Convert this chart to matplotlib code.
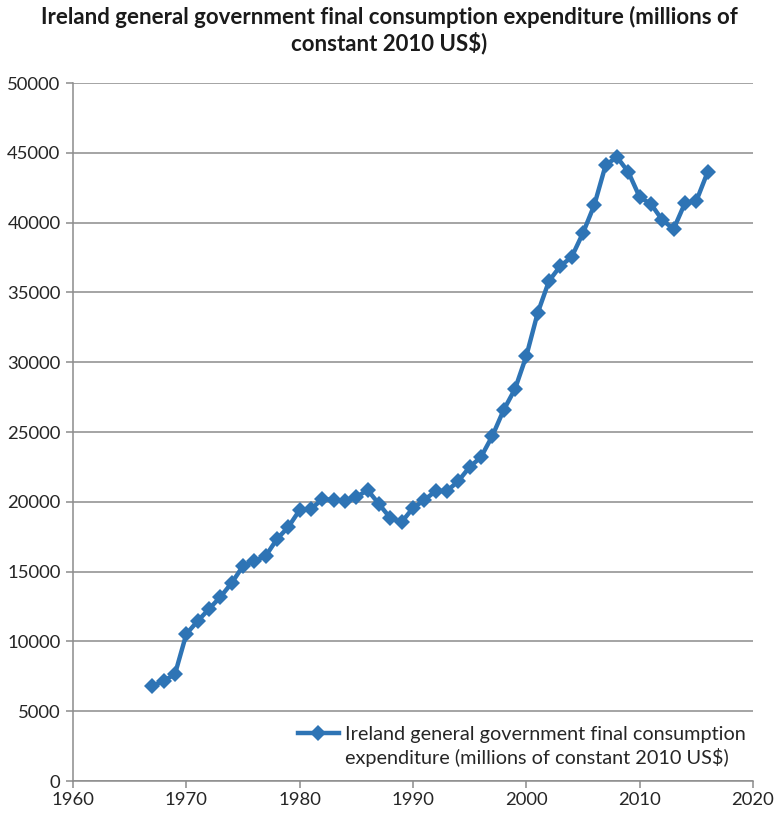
import matplotlib
matplotlib.use("Agg")
import matplotlib.pyplot as plt
from matplotlib.lines import Line2D

plt.rcParams['font.family'] = ['Lato', 'DejaVu Sans']

years = list(range(1967, 2017))
spending = [
    6805, 7163, 7665, 10530, 11461, 12321, 13180, 14183, 15401, 15759,
    16117, 17335, 18195, 19413, 19484, 20200, 20129, 20057, 20344, 20845,
    19842, 18840, 18553, 19556, 20129, 20774, 20774, 21490, 22493, 23209,
    24713, 26576, 28080, 30444, 33524, 35817, 36891, 37536, 39255, 41261,
    44126, 44699, 43625, 41834, 41332, 40186, 39542, 41404, 41547, 43625,
]
x_ticks = [1960, 1970, 1980, 1990, 2000, 2010, 2020]
y_ticks = list(range(0, 50001, 5000))

title = "Ireland general government final consumption expenditure (millions of\nconstant 2010 US$)"
label_lines = ["Ireland general government final consumption",
               "expenditure (millions of constant 2010 US$)"]

blue = "#2E74B5"
grid_gray = "#8C8C8C"

fig = plt.figure(figsize=(7.79, 8.14), dpi=100)
ax = fig.add_axes([0.0937, 0.0405, 0.8729, 0.8575])

series, = ax.plot(years, spending, color=blue, lw=3.2, marker="D", markersize=8,
                  markeredgewidth=0, solid_joinstyle="round")

ax.set_xlim(1960, 2020)
ax.set_ylim(0, 50000)
ax.set_xticks(x_ticks)
ax.set_yticks(y_ticks)
ax.yaxis.grid(True, color=grid_gray, lw=1.1)
ax.set_axisbelow(True)

for side in ("top", "right"):
    ax.spines[side].set_visible(False)
for side in ("left", "bottom"):
    ax.spines[side].set_color(grid_gray)
    ax.spines[side].set_linewidth(1.1)

ax.tick_params(axis="both", colors=grid_gray, labelcolor="#262626",
               labelsize=13.3, length=5, width=1.1, direction="out")
ax.tick_params(axis="y", pad=4)
ax.tick_params(axis="x", pad=3)

fig.suptitle(title, fontsize=16, fontweight="bold", color="#1a1a1a",
             y=0.993, va="top", linespacing=1.2)

# legend: marker on the first line of the wrapped label
blank = Line2D([], [], linestyle="none")
ax.legend([series, blank], label_lines, loc="lower right",
          bbox_to_anchor=(1.016, -0.006), frameon=False,
          fontsize=14.3, handlelength=2.1, handletextpad=0.3,
          labelspacing=0.25, labelcolor="#262626")

fig.savefig("out.png", dpi=100)
